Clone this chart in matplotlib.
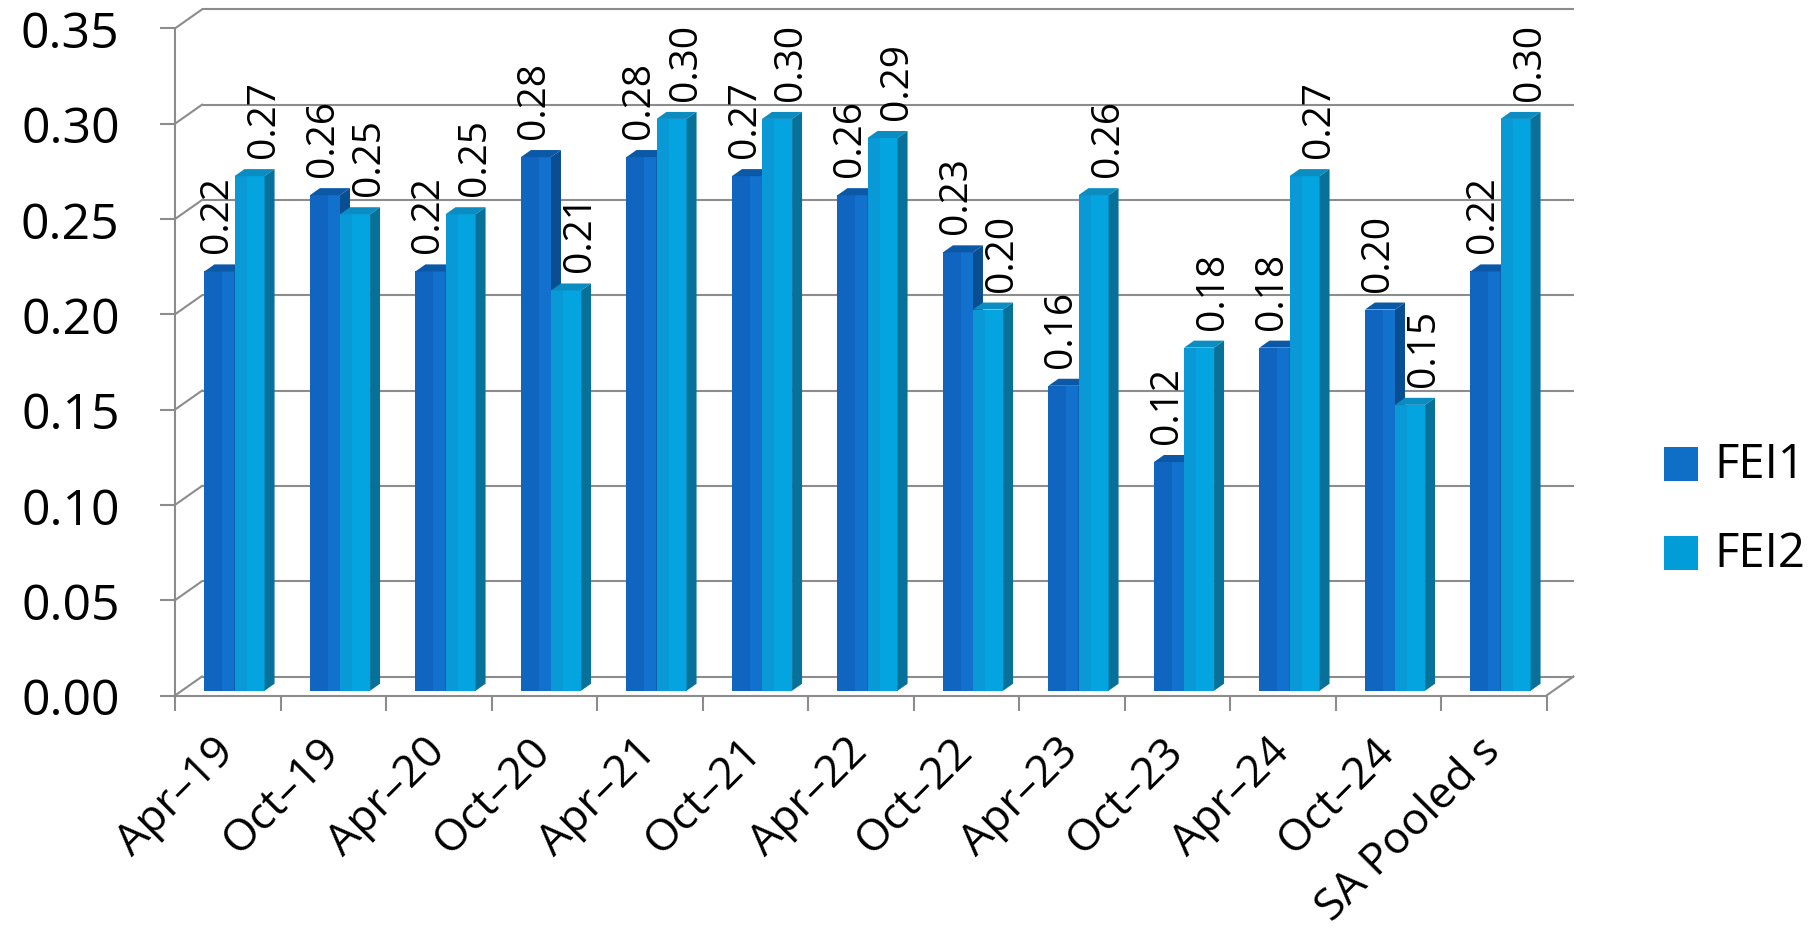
import matplotlib
matplotlib.use("Agg")
import matplotlib.pyplot as plt
from matplotlib.patches import Polygon, Rectangle

plt.rcParams["font.family"] = ["Open Sans", "DejaVu Sans"]

# ---- data -------------------------------------------------------------
categories = ["Apr–19", "Oct–19", "Apr–20", "Oct–20", "Apr–21", "Oct–21",
              "Apr–22", "Oct–22", "Apr–23", "Oct–23", "Apr–24", "Oct–24",
              "SA Pooled s"]
fei1 = [0.22, 0.26, 0.22, 0.28, 0.28, 0.27, 0.26, 0.23, 0.16, 0.12, 0.18, 0.20, 0.22]
fei2 = [0.27, 0.25, 0.25, 0.21, 0.30, 0.30, 0.29, 0.20, 0.26, 0.18, 0.27, 0.15, 0.30]
series_names = ["FEI1", "FEI2"]
y_ticks = [0.00, 0.05, 0.10, 0.15, 0.20, 0.25, 0.30, 0.35]

# ---- styling ----------------------------------------------------------
FRONT_DARK = ["#0F65C0", "#0899D6"]
FRONT_LIGHT = ["#1271CD", "#04A4E0"]
FRONT_SPLIT = [0.6, 0.4]             # share of the face in the darker tone
TOP = ["#0B58A6", "#0B8DC2"]
SIDE = ["#0A4E92", "#07719A"]
LEGEND_COL = ["#0F6FC6", "#009DD9"]
GRID = "#8C8C8C"

W_PX, H_PX, DPI = 1819, 929, 100
fig = plt.figure(figsize=(W_PX / DPI, H_PX / DPI), dpi=DPI)

# pixel layout of the plot frame
X0_PX, CAT_PX = 175.0, 105.5       # front axis position, width of one category
Y0_PX, UNIT_PX = 696.5, 1906.0     # front floor line, pixels per 1.0 of value
AX_L, AX_R, AX_T, AX_B = 140, 1600, 0, 760

ax = fig.add_axes([AX_L / W_PX, 1 - AX_B / H_PX,
                   (AX_R - AX_L) / W_PX, (AX_B - AX_T) / H_PX])
ax.set_xlim((AX_L - X0_PX) / CAT_PX, (AX_R - X0_PX) / CAT_PX)
ax.set_ylim((Y0_PX - AX_B) / UNIT_PX, (Y0_PX - AX_T) / UNIT_PX)
ax.patch.set_visible(False)

n = len(categories)
DX, DY = 27 / CAT_PX, 19 / UNIT_PX   # full depth of the floor / walls
BAR_W = 0.285
F0, F1 = 0.25, 0.62                  # depth slice occupied by the bars
LABEL_GAP = 12 / UNIT_PX
LABEL_SHIFT = [-2 / CAT_PX, 14 / CAT_PX]
ymax = y_ticks[-1]

# back wall gridlines and side-wall connectors
for v in y_ticks:
    ax.plot([DX, n + DX], [v + DY, v + DY], color=GRID, lw=1.5, zorder=1,
            solid_capstyle="butt")
    ax.plot([0, DX], [v, v + DY], color=GRID, lw=1.5, zorder=1)
ax.plot([n, n + DX], [0, DY], color=GRID, lw=1.5, zorder=1)

# 3-D style clustered columns
z = 3.0
for i in range(n):
    for j, vals in enumerate([fei1, fei2]):
        v = vals[i]
        xl = i + 0.5 - BAR_W + j * BAR_W + F0 * DX
        xr = xl + BAR_W
        ddx, ddy = (F1 - F0) * DX, (F1 - F0) * DY
        y0 = F0 * DY
        w_dark = BAR_W * FRONT_SPLIT[j]
        ax.bar(xl, v, width=w_dark, bottom=y0, align="edge",
               color=FRONT_DARK[j], linewidth=0, zorder=z)
        ax.bar(xl + w_dark, v, width=BAR_W - w_dark, bottom=y0, align="edge",
               color=FRONT_LIGHT[j], linewidth=0, zorder=z)
        ax.add_patch(Polygon([(xl, v + y0), (xr, v + y0),
                              (xr + ddx, v + y0 + ddy), (xl + ddx, v + y0 + ddy)],
                             closed=True, facecolor=TOP[j], edgecolor="none",
                             zorder=z + 0.001))
        ax.add_patch(Polygon([(xr, y0), (xr + ddx, y0 + ddy),
                              (xr + ddx, v + y0 + ddy), (xr, v + y0)],
                             closed=True, facecolor=SIDE[j], edgecolor="none",
                             zorder=z + 0.002))
        ax.text(xl + BAR_W / 2 + LABEL_SHIFT[j], v + F1 * DY + LABEL_GAP,
                f"{v:.2f}", rotation=90, ha="center", va="bottom",
                fontsize=28, color="black", zorder=20)
        z += 0.01

# axes: front value axis and front floor edge
for side in ("top", "right"):
    ax.spines[side].set_visible(False)
ax.spines["left"].set_position(("data", 0))
ax.spines["left"].set_bounds(0, ymax)
ax.spines["bottom"].set_position(("data", 0))
ax.spines["bottom"].set_bounds(0, n)
for side in ("left", "bottom"):
    ax.spines[side].set_color(GRID)
    ax.spines[side].set_linewidth(1.5)
    ax.spines[side].set_zorder(2)

ax.set_yticks(y_ticks, [f"{t:.2f}" for t in y_ticks])
ax.tick_params(axis="y", direction="out", length=10.8, width=1.5,
               color=GRID, pad=29, labelsize=36)

ax.set_xticks([i + 0.5 for i in range(n)], categories)
ax.set_xticks(range(n + 1), minor=True)
ax.tick_params(axis="x", which="major", length=0, pad=35, labelsize=32)
ax.tick_params(axis="x", which="minor", direction="out", length=10.8,
               width=1.5, color=GRID)
for lbl in ax.get_xticklabels():
    lbl.set_rotation(45)
    lbl.set_ha("right")
    lbl.set_va("center")
    lbl.set_rotation_mode("anchor")

# legend
for k, name in enumerate(series_names):
    top_px = 448 + k * 89
    fig.patches.append(Rectangle((1664 / W_PX, 1 - (top_px + 34) / H_PX),
                                 34 / W_PX, 34 / H_PX, transform=fig.transFigure,
                                 facecolor=LEGEND_COL[k], edgecolor="none"))
    fig.text(1714 / W_PX, 1 - (top_px + 17) / H_PX, name, ha="left",
             va="center", fontsize=34, color="black")

fig.savefig("out.png", dpi=DPI, facecolor="white")
